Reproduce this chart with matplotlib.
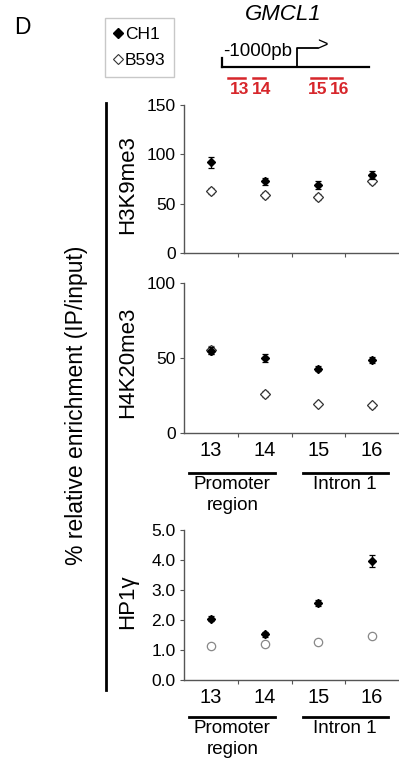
import numpy as np
import matplotlib
matplotlib.use('Agg')
from matplotlib import pyplot as plt
from matplotlib.lines import Line2D
from matplotlib.ticker import FixedLocator, NullFormatter

plt.rcParams['font.family'] = ['Liberation Sans', 'DejaVu Sans']

# %%
amplicons = ['13', '14', '15', '16']
panels = ['H3K9me3', 'H4K20me3', 'HP1\u03b3']

h3k9_ch1 = [92, 72.5, 68.5, 79]
h3k9_ch1_err = [5.5, 3.5, 4, 4]
h3k9_b593 = [62.5, 58.5, 57, 72.5]
h3k9_b593_err = [3, 3, 3, 3]

h4k20_ch1 = [55, 50, 43, 49]
h4k20_ch1_err = [2.5, 2.5, 1.5, 2]
h4k20_b593 = [55.5, 26, 19.5, 18.5]
h4k20_b593_err = [2.5, 2, 1.5, 1.5]

hp1_ch1 = [2.05, 1.52, 2.58, 3.97]
hp1_ch1_err = [0.08, 0.08, 0.1, 0.2]
hp1_b593 = [1.13, 1.2, 1.28, 1.47]
hp1_b593_err = [0.03, 0.03, 0.03, 0.03]

regions = ['Promoter\nregion', 'Intron 1']

# %%
fig = plt.figure(figsize=(3.99, 7.60), dpi=100)
W, H = 399, 760

def px_axes(left, top, right, bottom):
    return fig.add_axes([left / W, 1 - bottom / H, (right - left) / W, (bottom - top) / H])

ax1 = px_axes(184, 105, 399, 253)
ax2 = px_axes(184, 283, 399, 433)
ax3 = px_axes(184, 530, 399, 680)

x = np.arange(len(amplicons))
spine_col = '#555555'

setup = [
    (ax1, h3k9_ch1, h3k9_ch1_err, h3k9_b593, h3k9_b593_err, (0, 150), [0, 50, 100, 150], '%d', False, 'D'),
    (ax2, h4k20_ch1, h4k20_ch1_err, h4k20_b593, h4k20_b593_err, (0, 100), [0, 50, 100], '%d', True, 'D'),
    (ax3, hp1_ch1, hp1_ch1_err, hp1_b593, hp1_b593_err, (0, 5), [0, 1, 2, 3, 4, 5], '%.1f', True, 'o'),
]
label_y = [185, 362, 602]

for i, (ax, ch1, ch1e, b593, b593e, ylim, yt, fmt, xlab, bm) in enumerate(setup):
    ax.errorbar(x, b593, yerr=b593e, fmt=bm, ms=5 if bm == 'D' else 6, mfc='white',
                mec='#333333' if bm == 'D' else '#888888', mew=0.9,
                ecolor='#555555', elinewidth=0.8, capsize=2.5, capthick=0.8, zorder=3)
    ax.errorbar(x, ch1, yerr=ch1e, fmt='D', ms=4.5, color='black',
                ecolor='black', elinewidth=0.9, capsize=2.5, capthick=0.9, zorder=4)
    ax.set_xlim(-0.5, 3.5)
    ax.set_ylim(*ylim)
    ax.set_yticks(yt)
    ax.set_yticklabels([fmt % v for v in yt], fontsize=12.5)
    for s in ['top', 'right']:
        ax.spines[s].set_visible(False)
    for s in ['left', 'bottom']:
        ax.spines[s].set_color(spine_col)
        ax.spines[s].set_linewidth(1.0)
    ax.tick_params(axis='y', direction='out', length=3, width=0.8, color=spine_col, pad=3)
    ax.xaxis.set_minor_locator(FixedLocator([0.5, 1.5, 2.5]))
    ax.xaxis.set_minor_formatter(NullFormatter())
    ax.tick_params(axis='x', which='minor', direction='out', length=3, width=0.8, color=spine_col)
    ax.set_xticks(x)
    ax.tick_params(axis='x', which='major', length=0, pad=6)
    if xlab:
        ax.set_xticklabels(amplicons, fontsize=14.5)
    else:
        ax.set_xticklabels([])
    fig.text(128 / W, 1 - label_y[i] / H, panels[i], rotation=90, ha='center', va='center',
             fontsize=16)

    if xlab:
        tr = ax.get_xaxis_transform()
        yb = -0.267 if i == 1 else -0.247
        ax.plot([-0.41, 1.19], [yb, yb], color='black', lw=2, transform=tr, clip_on=False)
        ax.plot([1.72, 3.29], [yb, yb], color='black', lw=2, transform=tr, clip_on=False)
        ax.text(0.4, yb - 0.02, regions[0], transform=tr, ha='center', va='top',
                fontsize=13.5, linespacing=1.3)
        ax.text(2.49, yb - 0.02, regions[1], transform=tr, ha='center', va='top', fontsize=13.5)

# %% decorations: big label, bar, legend, gene sketch
fig.add_artist(Line2D([106 / W, 106 / W], [1 - 103 / H, 1 - 690 / H], color='black', lw=2))
fig.text(77 / W, 1 - 405 / H, '% relative enrichment (IP/input)', rotation=90,
         ha='center', va='center', fontsize=16.5)
fig.text(14 / W, 1 - 27 / H, 'D', fontsize=16.5, ha='left', va='center')

handles = [Line2D([], [], marker='D', ls='none', color='black', ms=5.5),
           Line2D([], [], marker='D', ls='none', mfc='white', mec='#333333', ms=5.5, mew=0.8)]
leg = fig.legend(handles, ['CH1', 'B593'], loc='upper left',
                 bbox_to_anchor=(105 / W, 1 - 18 / H), fontsize=12.5, frameon=True,
                 fancybox=False, handlelength=0.5, handletextpad=0.15,
                 borderpad=0.5, labelspacing=0.65, borderaxespad=0)
leg.get_frame().set_edgecolor('#bbbbbb')
leg.get_frame().set_linewidth(1.0)

deco = fig.add_axes([0, 0, 1, 1], zorder=-1)
deco.set_xlim(0, W)
deco.set_ylim(H, 0)
deco.axis('off')
deco.text(283, 15, 'GMCL1', style='italic', fontsize=16, ha='center', va='center')
deco.plot([222, 369], [67, 67], color='black', lw=1.6)
deco.plot([222, 222], [58, 67], color='black', lw=1.6)
deco.plot([297, 297, 318], [67, 48, 48], color='black', lw=1.3)
deco.text(317, 46, '>', fontsize=13, ha='left', va='center')
deco.text(223, 52, '-1000pb', fontsize=13.5, ha='left', va='center')
red = '#d7262b'
for (x0, x1), lab, lx in zip([(228, 245), (253, 265), (311, 326), (330, 342)], amplicons,
                             [240, 262, 318, 340]):
    deco.plot([x0, x1], [78, 78], color=red, lw=1.8)
    deco.text(lx, 90, lab, color=red, fontsize=12.5, fontweight='bold', ha='center', va='center')

plt.savefig('out.png', dpi=100)
